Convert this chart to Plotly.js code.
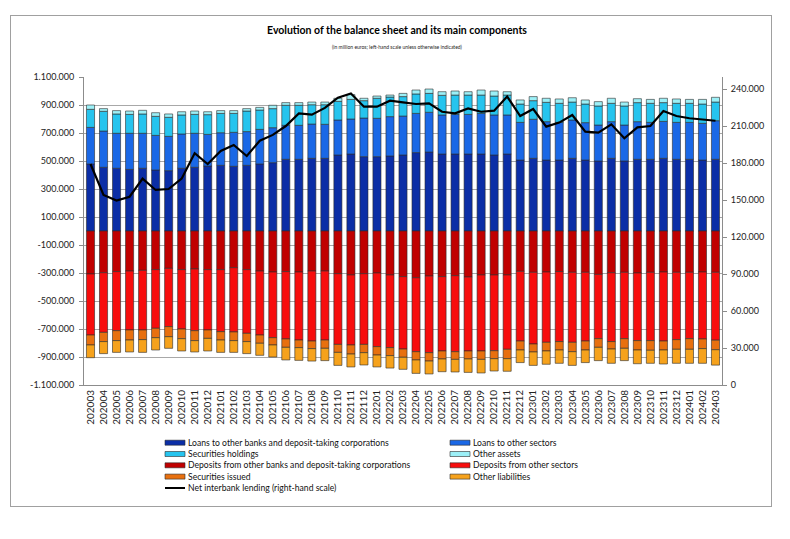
<!DOCTYPE html>
<html>
<head>
<meta charset="utf-8">
<script src="https://cdn.plot.ly/plotly-3.0.1.min.js"></script>
<style>
html,body{margin:0;padding:0;background:#fff;}
#wrap{position:relative;width:790px;height:539px;}
#chart{width:790px;height:539px;}
#frame{position:absolute;left:10px;top:15px;width:760px;height:490px;border:1px solid #a0a0a0;pointer-events:none;}
</style>
</head>
<body>
<div id="wrap"><div id="chart"></div><div id="frame"></div></div>
<script>
// ---- categories ----
const months = ["202003","202004","202005","202006","202007","202008","202009","202010","202011","202012",
"202101","202102","202103","202104","202105","202106","202107","202108","202109","202110","202111","202112",
"202201","202202","202203","202204","202205","202206","202207","202208","202209","202210","202211","202212",
"202301","202302","202303","202304","202305","202306","202307","202308","202309","202310","202311","202312",
"202401","202402","202403"];

// ---- series (million euros) ----
const loansBanks = [479000,455000,448000,440000,448000,436000,431000,448000,455000,464000,
469000,462000,469000,479000,488000,512000,512000,519000,519000,543000,
550000,531000,531000,536000,543000,560000,564000,550000,550000,550000,
550000,543000,550000,507000,519000,507000,507000,519000,507000,500000,
519000,500000,512000,512000,519000,512000,512000,507000,512000];
const loansOther = [261000,259000,250000,258000,250000,247000,245000,245000,243000,226000,
233000,243000,241000,247000,250000,243000,243000,245000,243000,250000,
250000,276000,274000,281000,278000,280000,284000,279000,283000,283000,
290000,286000,279000,269000,279000,274000,269000,274000,267000,257000,
262000,257000,269000,264000,264000,264000,264000,262000,276000];
const secHoldings = [129000,141000,138000,135000,138000,136000,136000,136000,135000,141000,
138000,135000,147000,138000,136000,143000,143000,138000,140000,133000,
140000,124000,143000,140000,139000,139000,135000,140000,138000,138000,
131000,135000,142000,131000,133000,138000,136000,128000,133000,136000,
131000,136000,136000,136000,134000,136000,136000,138000,133000];
const otherAssets = [31000,19000,24000,24000,26000,26000,24000,23000,24000,21000,
20000,20000,17000,19000,24000,19000,19000,19000,19000,22000,
34000,17000,16000,14000,23000,28000,31000,26000,29000,24000,
36000,36000,24000,29000,29000,29000,31000,31000,29000,31000,
36000,28000,28000,28000,31000,31000,28000,33000,34000];
const depBanks = [-307000,-298000,-290000,-286000,-281000,-276000,-267000,-276000,-271000,-276000,
-276000,-262000,-276000,-286000,-293000,-290000,-293000,-286000,-286000,-305000,
-314000,-305000,-300000,-314000,-326000,-334000,-322000,-326000,-319000,-329000,
-314000,-314000,-314000,-288000,-295000,-293000,-290000,-295000,-295000,-310000,
-298000,-295000,-300000,-295000,-293000,-295000,-295000,-293000,-295000];
const depOther = [-436000,-426000,-422000,-421000,-426000,-419000,-416000,-424000,-441000,-431000,
-443000,-459000,-455000,-457000,-469000,-481000,-486000,-500000,-493000,-505000,
-500000,-505000,-526000,-519000,-517000,-528000,-547000,-531000,-543000,-528000,
-543000,-541000,-531000,-498000,-512000,-502000,-500000,-500000,-491000,-459000,
-492000,-474000,-483000,-488000,-493000,-481000,-474000,-478000,-485000];
const secIssued = [-71000,-66000,-71000,-72000,-69000,-67000,-72000,-69000,-71000,-60000,
-60000,-62000,-59000,-59000,-52000,-60000,-54000,-54000,-59000,-57000,
-65000,-59000,-60000,-57000,-59000,-59000,-60000,-57000,-55000,-57000,
-60000,-57000,-67000,-64000,-57000,-62000,-60000,-67000,-64000,-62000,
-53000,-69000,-67000,-69000,-64000,-69000,-76000,-69000,-68000];
const otherLiab = [-91000,-86000,-84000,-85000,-91000,-88000,-83000,-88000,-81000,-90000,
-88000,-84000,-86000,-86000,-86000,-90000,-91000,-89000,-88000,-93000,
-92000,-88000,-85000,-89000,-86000,-96000,-92000,-91000,-90000,-96000,
-97000,-88000,-90000,-90000,-96000,-95000,-95000,-98000,-90000,-95000,
-102000,-88000,-98000,-93000,-100000,-100000,-100000,-105000,-110000];
const netInterbank = [179400,154200,149700,152800,167500,158300,159100,167500,188100,179400,
189900,194800,185900,198300,203000,210200,220500,219400,224900,233200,
236700,225900,225900,230800,229400,228100,228600,221800,220500,224500,
221800,222700,234100,218300,224000,209700,213000,219200,205700,204800,
211600,200200,209100,210200,222400,218300,216500,215700,214500];

// ---- names & tick values ----
const seriesNames = ["Loans to other banks and deposit-taking corporations","Loans to other sectors",
"Securities holdings","Other assets","Deposits from other banks and deposit-taking corporations",
"Deposits from other sectors","Securities issued","Other liabilities"];
const lineName = "Net interbank lending (right-hand scale)";
const leftTicks = [-1100000,-900000,-700000,-500000,-300000,-100000,100000,300000,500000,700000,900000,1100000];
const rightTicks = [0,30000,60000,90000,120000,150000,180000,210000,240000];

const seriesData = [loansBanks, loansOther, secHoldings, otherAssets, depBanks, depOther, secIssued, otherLiab];
const colors = ["#0b2ea6","#1a68e6","#26c4ee","#9cf0f7","#c00000","#f70d0d","#e8700f","#f6a21c"];

function fmt(v){
  const s = Math.abs(v).toString().replace(/\B(?=(\d{3})+(?!\d))/g, ".");
  return (v < 0 ? "-" : "") + s;
}

const PL = 84, PR = 722, PT = 77, PB = 385, W = 790, H = 539;
function px(x){ return (x - PL) / (PR - PL); }
function py(y){ return (PB - y) / (PB - PT); }

const FONT = "Lato, 'Open Sans', sans-serif";

const traces = seriesData.map((d, i) => ({
  type: "bar", name: seriesNames[i], x: months, y: d,
  marker: {color: colors[i], line: {color: "#2b2b2b", width: 0.6}},
  showlegend: false, hoverinfo: "x+y+name"
}));
traces.push({
  type: "scatter", mode: "lines", name: lineName, x: months, y: netInterbank, yaxis: "y2",
  line: {color: "#000", width: 2.2}, showlegend: false
});

// custom legend (two columns)
const shapes = [];
const annotations = [];
const rowY = [442.7, 454, 465.3, 476.6, 488];
const colX = [165, 450];
seriesNames.forEach((n, i) => {
  const c = i % 2, r = Math.floor(i / 2);
  shapes.push({type: "rect", xref: "paper", yref: "paper",
    x0: px(colX[c]), x1: px(colX[c] + 20), y0: py(rowY[r] + 2.5), y1: py(rowY[r] - 2.5),
    fillcolor: colors[i], line: {color: "#2b2b2b", width: 0.6}});
  annotations.push({xref: "paper", yref: "paper", x: px(colX[c] + 21), y: py(rowY[r]),
    xanchor: "left", yanchor: "middle", showarrow: false, text: n,
    font: {family: FONT, size: 8.6, color: "#111"}});
});
shapes.push({type: "line", xref: "paper", yref: "paper",
  x0: px(colX[0]), x1: px(colX[0] + 20), y0: py(rowY[4]), y1: py(rowY[4]),
  line: {color: "#000", width: 2}});
annotations.push({xref: "paper", yref: "paper", x: px(colX[0] + 21), y: py(rowY[4]),
  xanchor: "left", yanchor: "middle", showarrow: false, text: lineName,
  font: {family: FONT, size: 8.6, color: "#111"}});
annotations.push({xref: "paper", yref: "paper", x: px(397), y: py(47),
  xanchor: "center", yanchor: "middle", showarrow: false,
  text: "(in million euros; left-hand scale unless otherwise indicated)",
  font: {family: FONT, size: 5, color: "#222"}});

const layout = {
  width: W, height: H,
  margin: {l: PL, r: W - PR, t: PT, b: H - PB, pad: 0},
  paper_bgcolor: "#fff", plot_bgcolor: "#fff",
  barmode: "relative", bargap: 0.38,
  font: {family: FONT, color: "#111"},
  title: {text: "<b>Evolution of the balance sheet and its main components</b>",
    xref: "container", x: 397 / W, xanchor: "center",
    yref: "container", y: 1 - 30 / H, yanchor: "middle",
    font: {family: FONT, size: 10.5, color: "#000"}},
  xaxis: {type: "category", tickangle: -90, tickfont: {family: FONT, size: 10, color: "#222"},
    showline: true, linecolor: "#8c8c8c", linewidth: 1, ticks: "", showgrid: false, fixedrange: true},
  yaxis: {range: [-1100000, 1100000], tickvals: leftTicks, ticktext: leftTicks.map(fmt),
    tickfont: {family: FONT, size: 9, color: "#222"},
    showgrid: true, gridcolor: "#a8a8a8", gridwidth: 1, zeroline: false,
    showline: true, linecolor: "#8c8c8c", linewidth: 1, ticks: "outside", ticklen: 4, tickcolor: "#8c8c8c",
    ticklabelstandoff: 3},
  yaxis2: {range: [0, 250000], overlaying: "y", side: "right", tickvals: rightTicks, ticktext: rightTicks.map(fmt),
    tickfont: {family: FONT, size: 9, color: "#222"},
    showgrid: false, zeroline: false, showline: true, linecolor: "#8c8c8c", linewidth: 1,
    ticks: "outside", ticklen: 4, tickcolor: "#8c8c8c", ticklabelstandoff: 2},
  shapes: shapes,
  annotations: annotations,
  showlegend: false
};

Plotly.newPlot("chart", traces, layout, {displayModeBar: false, staticPlot: true});
</script>
</body>
</html>
